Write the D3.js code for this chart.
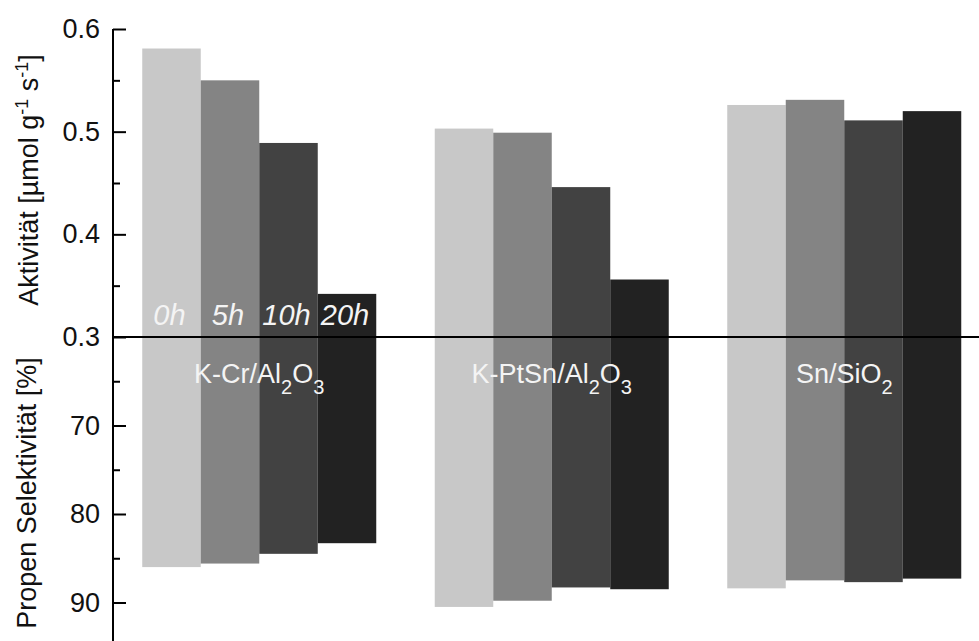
<!DOCTYPE html>
<html lang="de">
<head>
<meta charset="utf-8">
<script src="https://d3js.org/d3.v7.min.js"></script>
<style>
  body { margin: 0; background: #fff; }
  text { font-family: "Liberation Sans", Arial, sans-serif; }
</style>
</head>
<body>
<script>
// catalysts and time on stream
var catalysts = ["K-Cr/Al2O3", "K-PtSn/Al2O3", "Sn/SiO2"];
var hours = ["0h", "5h", "10h", "20h"];
var hourColors = ["#c8c8c8", "#848484", "#424242", "#222222"];

// activity [umol g-1 s-1], one row per catalyst
var activity = [
  [0.581, 0.550, 0.489, 0.342],
  [0.503, 0.499, 0.446, 0.356],
  [0.526, 0.531, 0.511, 0.520]
];
// propene selectivity [%]
var selectivity = [
  [86.0, 85.6, 84.5, 83.3],
  [90.5, 89.8, 88.3, 88.5],
  [88.4, 87.5, 87.7, 87.3]
];

var actTicks = [0.3, 0.4, 0.5, 0.6];
var actMinor = [0.35, 0.45, 0.55];
var selTicks = [70, 80, 90];
var selMinor = [65, 75, 85];

var width = 979, height = 641;
var axisX = 113, midY = 337;

var svg = d3.select("body").append("svg")
  .attr("width", width).attr("height", height);

var x = d3.scaleBand().domain(catalysts)
  .range([axisX, axisX + 877.5]).paddingInner(0.2).paddingOuter(0.1);
var xi = d3.scaleBand().domain(hours).range([0, x.bandwidth()]);

var yA = d3.scaleLinear().domain([0.3, 0.6]).range([midY, 29]);
var yS = d3.scaleLinear().domain([60, 95]).range([midY, midY + 35 * 8.85]);

// bars
catalysts.forEach(function(c, ci) {
  var g = svg.append("g").attr("transform", "translate(" + x(c) + ",0)");
  g.selectAll("rect.a").data(activity[ci]).join("rect")
    .attr("class", "a")
    .attr("x", function(d, i) { return xi(hours[i]); })
    .attr("width", xi.bandwidth())
    .attr("y", function(d) { return yA(d); })
    .attr("height", function(d) { return midY - yA(d); })
    .attr("fill", function(d, i) { return hourColors[i]; });
  g.selectAll("rect.s").data(selectivity[ci]).join("rect")
    .attr("class", "s")
    .attr("x", function(d, i) { return xi(hours[i]); })
    .attr("width", xi.bandwidth())
    .attr("y", midY)
    .attr("height", function(d) { return yS(d) - midY; })
    .attr("fill", function(d, i) { return hourColors[i]; });
});

// hour labels inside first group
svg.append("g").selectAll("text").data(hours).join("text")
  .attr("x", function(d) { return x(catalysts[0]) + xi(d) + xi.bandwidth() / 2 - 2; })
  .attr("y", 325)
  .attr("text-anchor", "middle")
  .attr("font-size", 29)
  .attr("font-style", "italic")
  .attr("fill", "#f4f4f4")
  .text(function(d) { return d; });

// catalyst names with subscripts
function chem(sel, name) {
  var parts = name.match(/[A-Za-z\-\/]+|\d+/g);
  var down = false;
  parts.forEach(function(p) {
    var isNum = /^\d+$/.test(p);
    var t = sel.append("tspan").text(p);
    if (isNum) {
      t.attr("font-size", 20).attr("dy", down ? 0 : 11);
      down = true;
    } else {
      if (down) t.attr("dy", -11);
      down = false;
    }
  });
}
catalysts.forEach(function(c) {
  var t = svg.append("text")
    .attr("x", x(c) + x.bandwidth() / 2)
    .attr("y", 383)
    .attr("text-anchor", "middle")
    .attr("font-size", 27)
    .attr("fill", "#f4f4f4");
  chem(t, c);
});

// middle line
svg.append("line")
  .attr("x1", axisX).attr("x2", width)
  .attr("y1", midY).attr("y2", midY)
  .attr("stroke", "#000").attr("stroke-width", 2);

// axes
function styleAxis(g) {
  g.select(".domain").remove();
  g.selectAll(".tick line").attr("stroke", "#000").attr("stroke-width", 2);
  g.selectAll(".tick text").attr("font-size", 27).attr("fill", "#111")
    .attr("font-family", "Liberation Sans, Arial, sans-serif");
}
svg.append("g").attr("transform", "translate(" + axisX + ",0)")
  .call(d3.axisLeft(yA).tickValues(actTicks).tickFormat(d3.format(".1f"))
    .tickSizeInner(-13).tickSizeOuter(0).tickPadding(13))
  .call(styleAxis);
svg.append("g").attr("transform", "translate(" + axisX + ",0)")
  .call(d3.axisLeft(yA).tickValues(actMinor).tickFormat("")
    .tickSizeInner(-7).tickSizeOuter(0))
  .call(styleAxis);
svg.append("g").attr("transform", "translate(" + axisX + ",0)")
  .call(d3.axisLeft(yS).tickValues(selTicks).tickFormat(d3.format("d"))
    .tickSizeInner(-13).tickSizeOuter(0).tickPadding(13))
  .call(styleAxis);
svg.append("g").attr("transform", "translate(" + axisX + ",0)")
  .call(d3.axisLeft(yS).tickValues(selMinor).tickFormat("")
    .tickSizeInner(-7).tickSizeOuter(0))
  .call(styleAxis);

svg.append("line")
  .attr("x1", axisX).attr("x2", axisX)
  .attr("y1", 29).attr("y2", height)
  .attr("stroke", "#000").attr("stroke-width", 2);

// axis titles
var t1 = svg.append("text")
  .attr("transform", "translate(38,180) rotate(-90)")
  .attr("text-anchor", "middle")
  .attr("font-size", 27).attr("fill", "#111");
t1.append("tspan").text("Aktivität [µmol g");
t1.append("tspan").attr("font-size", 18).attr("dy", -10).text("-1");
t1.append("tspan").attr("dy", 10).text(" s");
t1.append("tspan").attr("font-size", 18).attr("dy", -10).text("-1");
t1.append("tspan").attr("dy", 10).text("]");

svg.append("text")
  .attr("transform", "translate(36,493) rotate(-90)")
  .attr("text-anchor", "middle")
  .attr("font-size", 27).attr("fill", "#111")
  .text("Propen Selektivität [%]");
</script>
</body>
</html>
